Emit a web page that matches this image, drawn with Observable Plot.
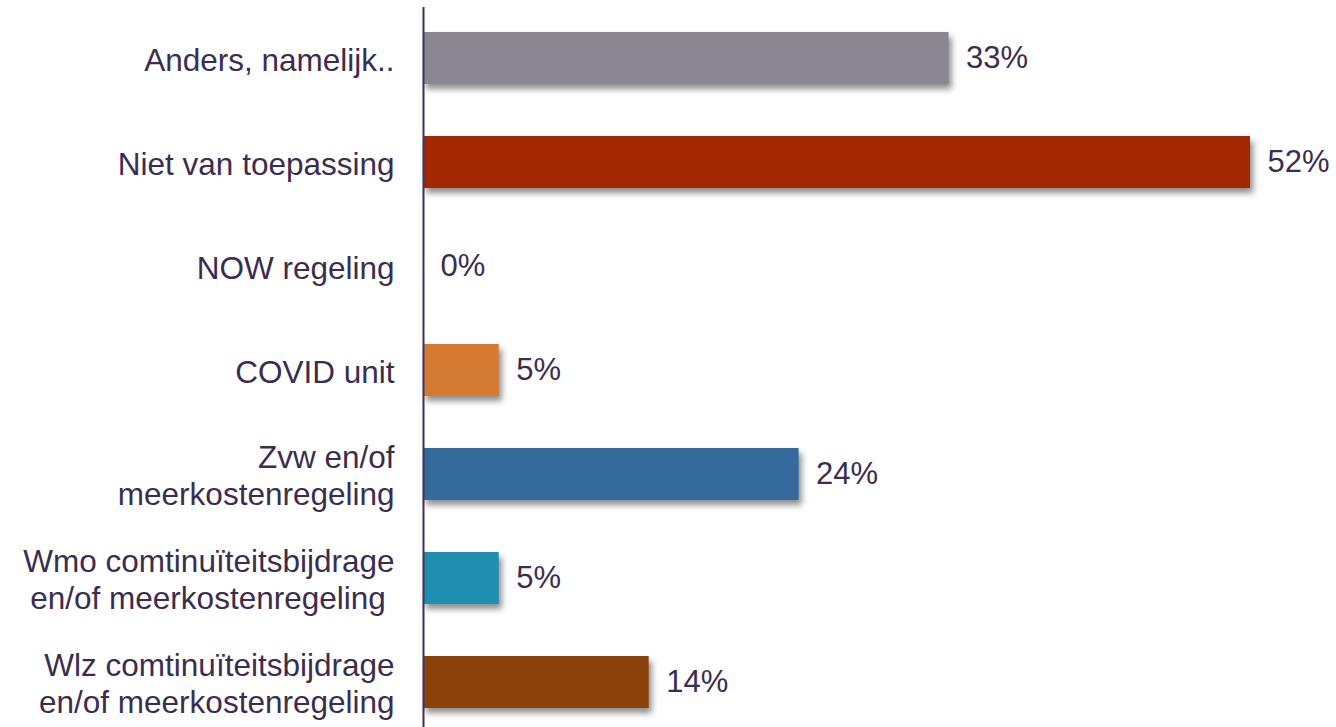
<!DOCTYPE html>
<html>
<head>
<meta charset="utf-8">
<script src="https://cdn.jsdelivr.net/npm/d3@7"></script>
<script src="https://cdn.jsdelivr.net/npm/@observablehq/plot@0.6"></script>
<style>
  html, body { margin: 0; padding: 0; background: #fff; }
  #chart svg { display: block; }
</style>
</head>
<body>
<div id="chart"></div>
<script>
const categories = [
  "Anders, namelijk..",
  "Niet van toepassing",
  "NOW regeling",
  "COVID unit",
  "Zvw en/of\nmeerkostenregeling",
  "Wmo comtinuïteitsbijdrage\nen/of meerkostenregeling\u00a0",
  "Wlz comtinuïteitsbijdrage\nen/of meerkostenregeling"
];
const values = [33.3, 52.4, 0, 4.8, 23.8, 4.8, 14.3];
const colors = ["#8b8792", "#a32800", "#c8c8c8", "#d57a33", "#346b9c", "#1f8faf", "#8a440b"];

const data = categories.map((c, i) => ({category: c, value: values[i]}));
const textColor = "#3b2d4f";

const chart = Plot.plot({
  width: 1336,
  height: 727,
  marginTop: 7,
  marginBottom: 0,
  marginLeft: 0,
  marginRight: 0,
  style: {fontFamily: "'Liberation Sans', Arial, sans-serif", background: "#fff"},
  x: {domain: [0, 52.4], range: [423, 1250], axis: null},
  y: {domain: categories, range: [6, 734], paddingInner: 0.5, paddingOuter: 0.25, axis: null},
  color: {domain: categories, range: colors},
  marks: [
    Plot.barX(data, {x: "value", y: "category", fill: "category"}),
    Plot.ruleX([0], {stroke: "#3f3157", strokeWidth: 2}),
    Plot.text(data, {x: 0, y: "category", text: "category", textAnchor: "end", dx: -29,
      fontSize: 31.5, fill: textColor, lineHeight: 1.2}),
    Plot.text(data, {x: "value", y: "category", text: d => Math.round(d.value) + "%",
      textAnchor: "start", dx: 17, fontSize: 31, fill: textColor})
  ]
});

d3.select(chart).selectAll("g[aria-label=bar] rect")
  .style("filter", "drop-shadow(3px 5px 3px rgba(0,0,0,0.45))");

document.getElementById("chart").appendChild(chart);
</script>
</body>
</html>
